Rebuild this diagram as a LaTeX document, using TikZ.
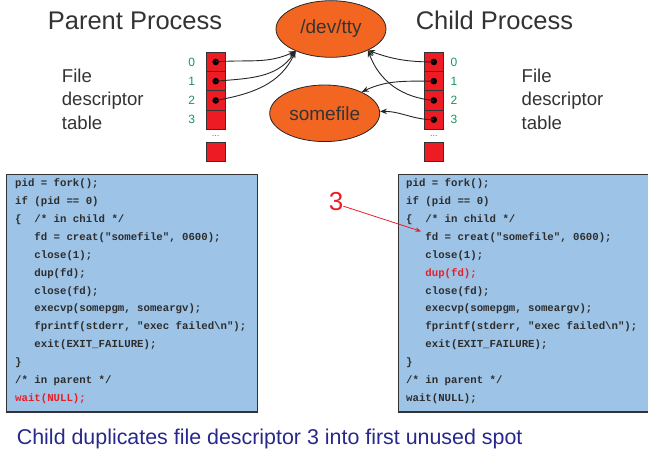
\documentclass[tikz,border=0pt]{standalone}
\usepackage{fontspec}
\setmainfont{Liberation Sans}
\setmonofont{Liberation Mono}
\usetikzlibrary{arrows.meta,shapes.geometric}
\definecolor{blobfill}{RGB}{242,102,34}
\definecolor{cellred}{RGB}{237,28,36}
\definecolor{codered}{RGB}{232,30,40}
\definecolor{codetext}{RGB}{45,45,45}
\definecolor{boxblue}{RGB}{157,195,230}
\definecolor{fdgreen}{RGB}{25,150,90}
\definecolor{capblue}{RGB}{40,40,140}

\begin{document}
\begin{tikzpicture}[x=1bp,y=-1bp,>={Stealth[length=7bp,width=5.5bp]},line cap=round,
  blob/.style={ellipse,draw=black!85,line width=0.8bp,fill=blobfill,inner sep=0pt,minimum width=110bp,minimum height=56.6bp,text=black!80,font=\fontsize{19bp}{22bp}\selectfont},
  fdcell/.style={rectangle,draw=black!80,line width=0.8bp,fill=cellred,inner sep=0pt,minimum size=19.3bp},
  fdnum/.style={text=fdgreen,inner sep=0pt,font=\fontsize{12bp}{14bp}\selectfont},
  fdarrow/.style={->,line width=0.9bp,black!85},
  fdlabel/.style={anchor=base west,align=left,inner sep=0pt,text=black!80,font=\fontsize{18.6bp}{23.5bp}\selectfont},
  heading/.style={anchor=base,inner sep=0pt,text=black!80,font=\fontsize{25.5bp}{30bp}\selectfont},
  codebox/.style={draw=black!80,line width=1.3bp,fill=boxblue},
  codeline/.style={anchor=base west,inner sep=0pt,text=codetext,font=\ttfamily\bfseries\fontsize{10.7bp}{12bp}\selectfont},
  redarrow/.style={draw=codered,line width=0.8bp,-{Stealth[length=6bp,width=4.5bp]}}]
\useasboundingbox (0,0) rectangle (648,449);

\node[heading] (ptitle) at (135,30) {Parent Process};
\node[heading] (ctitle) at (494.4,30) {Child Process};
\node[blob] (tty) at (331,29) {/dev/tty};
\node[blob] (sfile) at (324.7,113.3) {somefile};
\node[fdlabel] (plabel) at (61.7,129.3) {File\\descriptor\\table};
\node[fdlabel] (clabel) at (521.5,129.3) {File\\descriptor\\table};

\foreach \k in {0,...,3}{
  \node[fdcell] (pf\k) at (215.7,{61.95+19.25*\k}) {};
  \node[fdcell] (cf\k) at (433.8,{61.95+19.25*\k}) {};
  \node[fdnum] (pn\k) at (191.7,{61.95+19.25*\k}) {\k};
  \node[fdnum] (cn\k) at (454,{61.95+19.25*\k}) {\k};
}
\node[fdcell] (pfx) at (215.7,152) {};
\node[fdcell] (cfx) at (433.8,152) {};
\node[text=black!60,font=\fontsize{9bp}{10bp}\selectfont] (pdots) at (215.7,136) {...};
\node[text=black!60,font=\fontsize{9bp}{10bp}\selectfont] (cdots) at (433.8,136) {...};
\foreach \k in {0,1,2}
  \fill (pf\k) circle (3.3bp);
\foreach \k in {0,...,3}
  \fill (cf\k) circle (3.3bp);

\draw[fdarrow] (pf0.center) to[out=5,in=205] (tty.212);
\draw[fdarrow] (pf1.center) to[out=5,in=235] (tty.212);
\draw[fdarrow] (pf2.center) to[out=10,in=245] (tty.212);
\draw[fdarrow] (cf0.center) to[out=180,in=-20] (tty.330);
\draw[fdarrow] (cf2.center) to[out=175,in=-70] (tty.330);
\draw[fdarrow] (cf1.center) to[out=180,in=25] (sfile.30);
\draw[fdarrow] (cf3.center) to[out=180,in=0] (sfile.2);

\draw[codebox] (6.7,174.3) rectangle (257.3,412);
\draw[codebox] (398.3,174.3) rectangle (652,412);
\foreach \s/\xa/\dupc/\waitc in {p/15/codetext/codered,c/406/codered/codetext}{
  \foreach \ind/\txt [count=\i from 0] in {0/{pid = fork();},0/{if (pid == 0)},0/{\{\ \ /* in child */},
      1/{fd = creat("somefile", 0600);},1/{close(1);},1/{\textcolor{\dupc}{dup(fd);}},1/{close(fd);},
      1/{execvp(somepgm, someargv);},1/{fprintf(stderr, "exec failed\textbackslash n");},
      1/{exit(EXIT\_FAILURE);},0/{\}},0/{/* in parent */},0/{\textcolor{\waitc}{wait(NULL);}}}
    \node[codeline] (\s code\i) at ({\xa+19.26*\ind},{186.5+17.92*\i}) {\txt};
}

\node[text=codered,inner sep=0pt,font=\fontsize{26bp}{30bp}\selectfont] (three) at (336,201.2) {3};
\draw[redarrow] ([yshift=-5bp]three.east) -- ([shift={(-4bp,6bp)}]ccode3.west);

\node[anchor=base west,inner sep=0pt,text=capblue,font=\fontsize{21.4bp}{25bp}\selectfont] (caption) at (16.7,444) {Child duplicates file descriptor 3 into first unused spot};
\end{tikzpicture}
\end{document}
